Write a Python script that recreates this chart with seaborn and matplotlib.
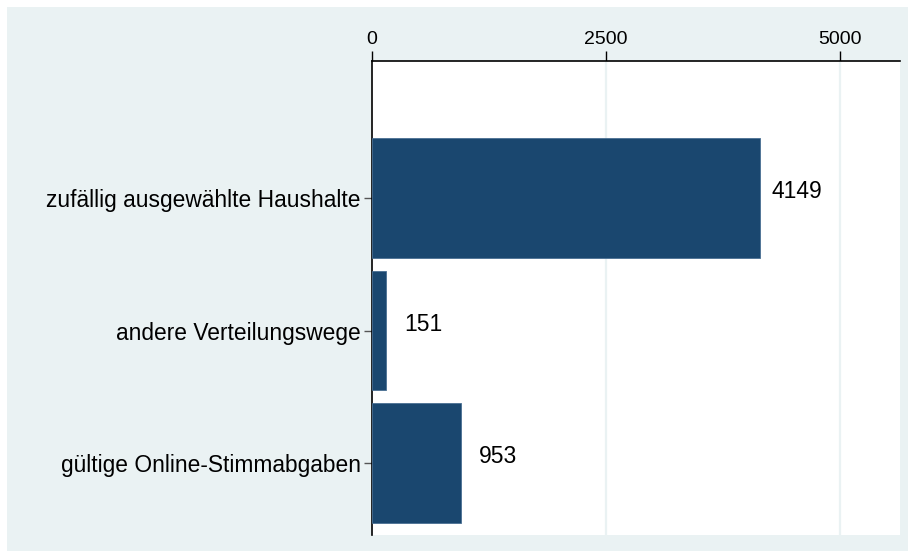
import matplotlib
matplotlib.use("Agg")
import matplotlib.pyplot as plt
import seaborn as sns
import pandas as pd
from matplotlib.patches import Rectangle

categories = ["zufällig ausgewählte Haushalte", "andere Verteilungswege", "gültige Online-Stimmabgaben"]
values = [4149, 151, 953]
x_ticks = [0, 2500, 5000]

sns.set_theme(style="white")
plt.rcParams["font.family"] = ["Liberation Sans", "DejaVu Sans"]

W, H = 908, 551
fig = plt.figure(figsize=(W / 100, H / 100), dpi=100, facecolor="white")
fig.patches.append(Rectangle((7 / W, 0), 1 - 7 / W, 1 - 7 / H, transform=fig.transFigure,
                             facecolor="#eaf2f3", edgecolor="none", zorder=-10))

ax = fig.add_axes([372 / W, 1 - 535 / H, 528 / W, 474 / H])
ax.set_facecolor("white")

df = pd.DataFrame({"cat": categories, "val": values})
sns.barplot(data=df, x="val", y="cat", orient="h", color="#1a476f", saturation=1,
            width=0.905, edgecolor="#4a6f93", linewidth=0.6, ax=ax, zorder=3)

ax.set_xlim(0, 5641)
ax.set_ylim(2.543, -1.034)
ax.set_xticks(x_ticks)
ax.set_xticklabels([str(t) for t in x_ticks])
ax.xaxis.tick_top()
ax.xaxis.set_label_position("top")
ax.set_xlabel("")
ax.set_ylabel("")
for t in x_ticks[1:]:
    ax.axvline(t, color="#eaf2f3", linewidth=1.6, zorder=1)

for s in ["right", "bottom"]:
    ax.spines[s].set_visible(False)
for s in ["top", "left"]:
    ax.spines[s].set_visible(True)
    ax.spines[s].set_color("black")
    ax.spines[s].set_linewidth(1.2)

ax.tick_params(axis="x", which="both", top=True, bottom=False, length=7, width=1.0,
               color="black", labelsize=14, pad=2, labelcolor="black")
ax.tick_params(axis="y", which="both", left=True, length=6, width=1.0, color="#555555",
               labelsize=16.4, pad=2, labelcolor="black")

for i, v in enumerate(values):
    ax.annotate(str(v), xy=(v, i), xytext=(26.6, 4.5), textcoords="offset points",
                ha="center", va="center", fontsize=16.5, color="black", zorder=4)

fig.savefig("out.png", dpi=100, facecolor=fig.get_facecolor())
